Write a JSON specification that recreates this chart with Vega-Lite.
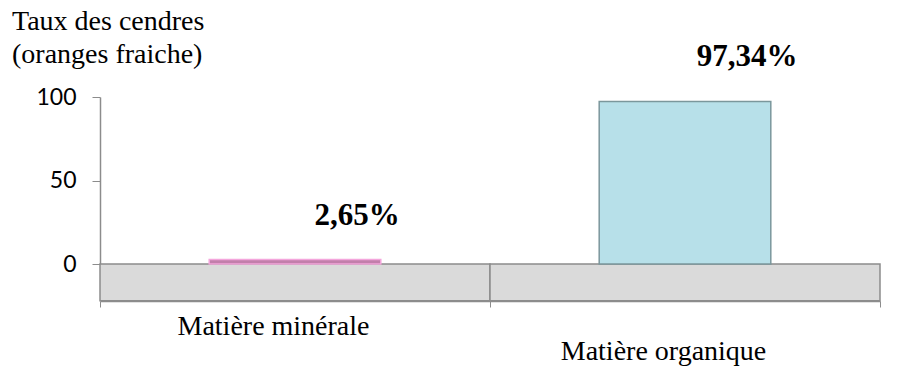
{
  "$schema": "https://vega.github.io/schema/vega-lite/v6.json",
  "autosize": "none",
  "width": 780,
  "height": 167,
  "padding": {"left": 100, "top": 97, "right": 23, "bottom": 103},
  "background": "white",
  "title": {
    "text": ["Taux des cendres", "(oranges fraiche)"],
    "anchor": "start",
    "frame": "group",
    "baseline": "top",
    "dx": -88,
    "dy": 28,
    "offset": 0,
    "font": "Liberation Serif",
    "fontSize": 28,
    "fontWeight": "normal",
    "color": "black",
    "lineHeight": 33
  },
  "config": {
    "view": {"stroke": null},
    "axis": {"grid": false}
  },
  "data": {
    "values": [
      {"categorie": "Matière minérale", "taux": 2.65, "etiquette": "2,65%"},
      {"categorie": "Matière organique", "taux": 97.34, "etiquette": "97,34%"}
    ]
  },
  "encoding": {
    "x": {
      "field": "categorie",
      "type": "nominal",
      "sort": null,
      "scale": {"paddingInner": 0, "paddingOuter": 0},
      "axis": {
        "title": null,
        "labelAngle": 0,
        "offset": 37,
        "domainColor": "#8c8c8c",
        "domainWidth": 1.5,
        "tickColor": "#8c8c8c",
        "tickSize": 6,
        "tickBand": "extent",
        "labelFont": "Liberation Serif",
        "labelFontSize": 28,
        "labelLimit": 400,
        "labelColor": "black",
        "labelOffset": -22,
        "labelPadding": {
          "condition": {"test": "datum.value === 'Matière organique'", "value": 30},
          "value": 5
        }
      }
    }
  },
  "layer": [
    {
      "mark": {"type": "rect", "fill": "#dadada", "stroke": "#8c8c8c", "strokeWidth": 1.5},
      "encoding": {
        "y": {"datum": -22, "type": "quantitative", "scale": {"domain": [0, 100]}},
        "y2": {"datum": 0}
      }
    },
    {
      "mark": {"type": "bar", "width": {"band": 0.44}, "strokeWidth": 1.5},
      "encoding": {
        "y": {
          "field": "taux",
          "type": "quantitative",
          "scale": {"domain": [0, 100]},
          "axis": {
            "title": null,
            "values": [0, 50, 100],
            "domainColor": "#8c8c8c",
            "domainWidth": 1.5,
            "tickColor": "#8c8c8c",
            "tickSize": 8,
            "labelFont": "Lato",
            "labelFontSize": 23,
            "labelColor": "black",
            "labelPadding": 16
          }
        },
        "color": {
          "field": "categorie",
          "type": "nominal",
          "scale": {"range": ["#c27fab", "#b7e0e9"]},
          "legend": null
        },
        "stroke": {
          "field": "categorie",
          "type": "nominal",
          "scale": {"range": ["#f4a6dc", "#7b979c"]},
          "legend": null
        }
      }
    },
    {
      "mark": {
        "type": "text",
        "font": "Liberation Serif",
        "fontSize": 31,
        "fontWeight": "bold",
        "color": "black",
        "baseline": "bottom",
        "dx": 62,
        "dy": -28
      },
      "encoding": {
        "y": {"field": "taux", "type": "quantitative"},
        "text": {"field": "etiquette"}
      }
    }
  ]
}
